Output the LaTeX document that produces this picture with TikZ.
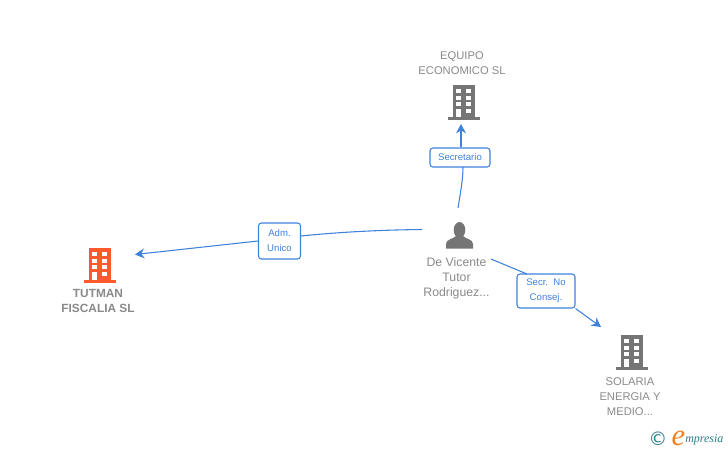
\documentclass[tikz,border=0pt]{standalone}
\usepackage{fontspec}
\setmainfont{Liberation Sans}
\newfontfamily\logofont{Liberation Serif}
\newfontfamily\symfont{DejaVu Sans}
\usetikzlibrary{arrows.meta}
\definecolor{txtgray}{HTML}{8A8A8A}
\definecolor{icongray}{HTML}{757575}
\definecolor{iconorange}{HTML}{FF5A2B}
\definecolor{linkblue}{HTML}{3F82DE}
\definecolor{logoteal}{HTML}{2E7F8E}
\definecolor{logoorange}{HTML}{F08020}
\tikzset{
  x=0.75pt,y=-0.75pt,
  entity/.style={font=\fontsize{8.4pt}{11.25pt}\selectfont,text=txtgray,align=center,inner sep=0pt},
  boldentity/.style={entity,font=\fontsize{8.9pt}{11.25pt}\selectfont\bfseries},
  role/.style={draw=linkblue,line width=0.8pt,rounded corners=2.2pt,fill=white,text=linkblue,
    font=\fontsize{7.2pt}{11.25pt}\selectfont,align=center,inner sep=0pt},
  link/.style={draw=linkblue,line width=0.8pt},
  tip/.style={-{Stealth[length=7pt,width=7.5pt]}},
  pics/building/.style={code={
    \fill[#1] (-11,-17) rectangle (11,15.5);
    \fill[#1] (-16,15) rectangle (16,17.5);
    \foreach \yy in {-13,-6.4,0.2}{
      \fill[white] (-7.7,\yy) rectangle (-2.6,\yy+4);
      \fill[white] (2.3,\yy) rectangle (7.4,\yy+4);
    }
    \fill[white] (-7.7,7) rectangle (-2.6,15);
    \fill[white] (2.3,7) rectangle (7.4,11);
  }},
  pics/person/.style={code={
    \fill[icongray] (0,-5) ellipse (5.8 and 8);
    \fill[icongray] (-13.5,13.5) -- (-13.5,9) .. controls (-13.5,4) and (-6,4) .. (-3.5,1)
      -- (3.5,1) .. controls (6,4) and (13.5,4) .. (13.5,9) -- (13.5,13.5) -- cycle;
  }}
}
\begin{document}
\begin{tikzpicture}
\useasboundingbox (0,0) rectangle (728,450);
\fill[white] (0,0) rectangle (728,450);

\pic at (464,102) {building=icongray};
\pic at (100,265) {building=iconorange};
\pic at (632,352) {building=icongray};
\pic at (459.5,235) {person};

\node[entity] (equipo) at (462,63.5) {EQUIPO\\ECONOMICO SL};
\node[boldentity] (tutman) at (98,301) {TUTMAN\\FISCALIA SL};
\node[entity] (solaria) at (630,396.5) {SOLARIA\\ENERGIA Y\\MEDIO...};
\node[entity,font=\fontsize{9.2pt}{11.25pt}\selectfont] (devicente) at (456.5,278) {De Vicente\\Tutor\\Rodriguez...};

\node[role,minimum width=45pt,minimum height=14.25pt] (secretario) at (460,157.5) {Secretario};
\node[role,minimum width=31.5pt,minimum height=27pt] (adm) at (279.5,241) {Adm.\\Unico};
\node[role,minimum width=43.5pt,minimum height=25.5pt] (secr) at (546,291) {Secr.\ \ No\\Consej.};

\coordinate (pTop) at (458,208);
\coordinate (pLeft) at (422,229.5);
\coordinate (pRight) at (491,259);
\coordinate (aTop) at (461,124);
\coordinate (aLeft) at (135,254.5);
\coordinate (aRight) at (601,327);
\coordinate (sA) at (463,167);
\coordinate (sB) at (301,236);
\coordinate (sC) at (527,274);

\draw[link] (pTop) .. controls (460,195) and (463,180) .. (sA);
\draw[link,tip] (secretario.north -| aTop) -- (aTop);
\draw[link] (pLeft) .. controls (380,230) and (340,232) .. (sB);
\draw[link,tip] (adm.west) -- (aLeft);
\draw[link] (pRight) -- (sC);
\draw[link,tip] (secr.south east) -- (aRight);

\node[inner sep=0pt,text=logoteal,font=\symfont\fontsize{14pt}{14pt}\selectfont] (copy) at (658,439) {©};
\node[inner sep=0pt,anchor=base,text=logoorange,font=\logofont\itshape\fontsize{23pt}{23pt}\selectfont] (loge) at (678.5,445) {e};
\node[inner sep=0pt,anchor=base west,text=logoteal,font=\logofont\itshape\fontsize{9pt}{10pt}\selectfont] (logt) at (685,442) {mpresia};
\end{tikzpicture}
\end{document}
